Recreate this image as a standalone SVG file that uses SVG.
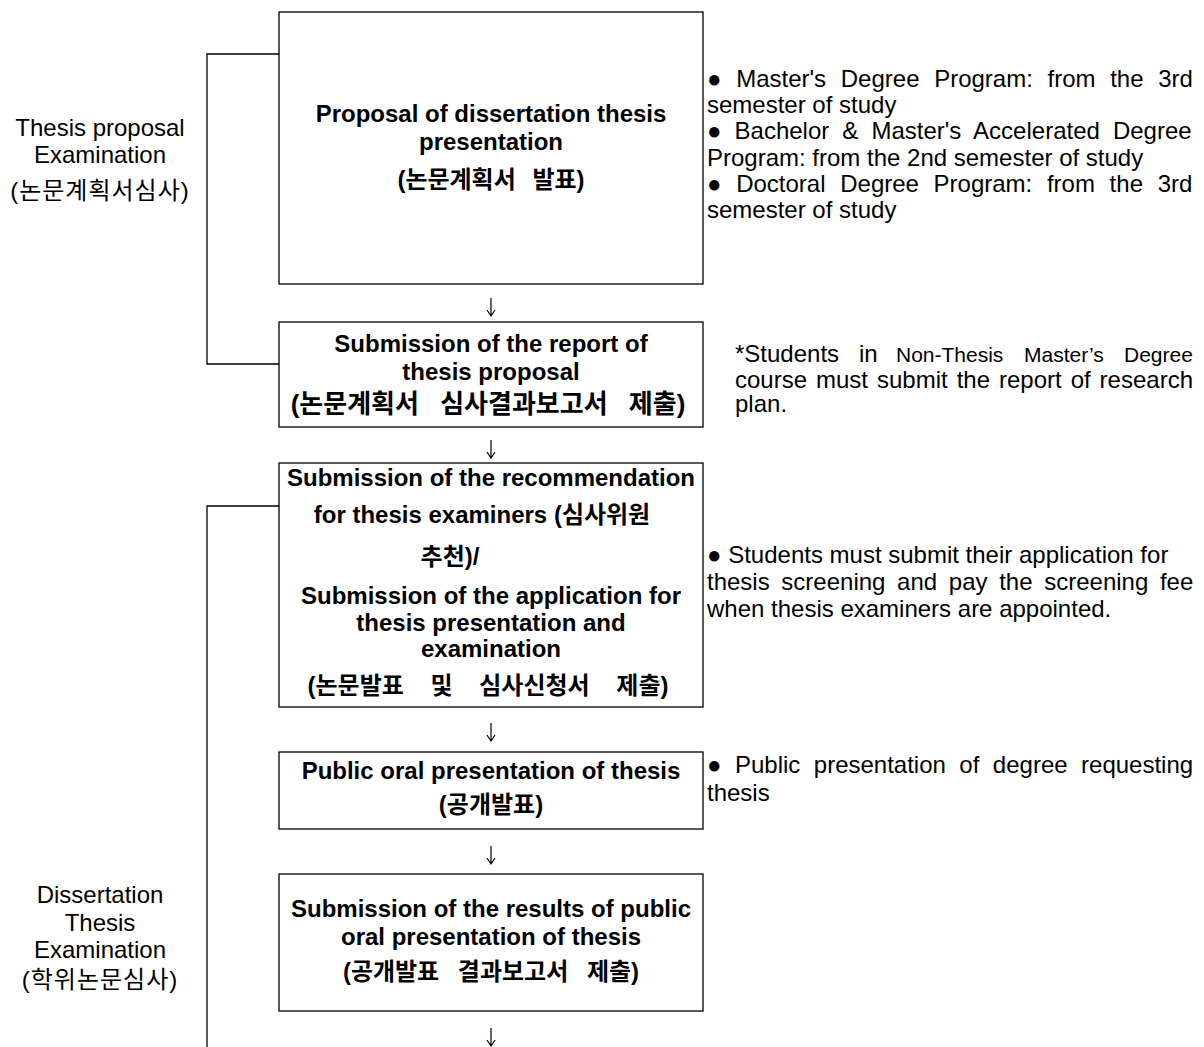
<svg xmlns="http://www.w3.org/2000/svg" width="1204" height="1047" viewBox="0 0 1204 1047">
<style>
.bx{fill:#fff;stroke:#000;stroke-width:1.3}
.ln{fill:none;stroke:#000;stroke-width:1.3}
.ar{fill:none;stroke:#000;stroke-width:1.2}
text{font-family:"Liberation Sans","Noto Sans CJK KR",Arial,sans-serif;font-size:24px;fill:#000}
.b{font-weight:bold;text-anchor:middle}
.c{text-anchor:middle}
.k{letter-spacing:1px}
.sm{font-size:21px}
</style>
<defs>
<path id="arr" class="ar" d="M0,0 V18 M-4,12 L0,18 L4,12"/>
</defs>
<rect width="1204" height="1047" fill="#fff"/>
<g id="connectors">
<path class="ln" d="M279,54 H207 V364 H279"/>
<path class="ln" d="M279,506 H207 V1047"/>
<use href="#arr" x="491" y="298"/>
<use href="#arr" x="491" y="440"/>
<use href="#arr" x="491" y="723"/>
<use href="#arr" x="491" y="846"/>
<use href="#arr" x="491" y="1028"/>
</g>
<g id="label-proposal">
<text class="c" x="100" y="136">Thesis proposal</text>
<text class="c" x="100" y="163">Examination</text>
<text class="c k" x="100" y="199">(논문계획서심사)</text>
</g>
<g id="label-dissertation">
<text class="c" x="100" y="903">Dissertation</text>
<text class="c" x="100" y="931">Thesis</text>
<text class="c" x="100" y="958">Examination</text>
<text class="c k" x="100" y="988">(학위논문심사)</text>
</g>
<g id="node1">
<rect class="bx" x="279" y="12" width="424" height="272"/>
<text class="b" x="491" y="122">Proposal of dissertation thesis</text>
<text class="b" x="491" y="150">presentation</text>
<text class="b" x="491" y="188" style="word-spacing:10px">(논문계획서 발표)</text>
</g>
<g id="note1">
<text x="707" y="87" style="word-spacing:8px">● Master's Degree Program: from the 3rd</text>
<text x="707" y="113">semester of study</text>
<text x="707" y="139" style="word-spacing:6.4px">● Bachelor &amp; Master's Accelerated Degree</text>
<text x="707" y="166">Program: from the 2nd semester of study</text>
<text x="707" y="192" style="word-spacing:8px">● Doctoral Degree Program: from the 3rd</text>
<text x="707" y="218">semester of study</text>
</g>
<g id="node2">
<rect class="bx" x="279" y="322" width="424" height="105"/>
<text class="b" x="491" y="352">Submission of the report of</text>
<text class="b" x="491" y="380">thesis proposal</text>
<text class="b" x="488" y="413" style="font-size:26px;word-spacing:14px">(논문계획서 심사결과보고서 제출)</text>
</g>
<g id="note2">
<text y="362"><tspan x="735">*Students</tspan><tspan x="859">in</tspan><tspan class="sm" x="896">Non-Thesis</tspan><tspan class="sm" x="1024">Master’s</tspan><tspan class="sm" x="1124">Degree</tspan></text>
<text x="735" y="388" style="word-spacing:2.3px">course must submit the report of research</text>
<text x="735" y="412">plan.</text>
</g>
<g id="node3">
<rect class="bx" x="279" y="463" width="424" height="244"/>
<text class="b" x="491" y="486">Submission of the recommendation</text>
<text class="b" x="482" y="523">for thesis examiners (심사위원</text>
<text class="b" x="450" y="565">추천)/</text>
<text class="b" x="491" y="604">Submission of the application for</text>
<text class="b" x="491" y="631">thesis presentation and</text>
<text class="b" x="491" y="657">examination</text>
<text class="b" x="488" y="694" style="word-spacing:20px">(논문발표 및 심사신청서 제출)</text>
</g>
<g id="note3">
<text x="707" y="563">● Students must submit their application for</text>
<text x="707" y="590" style="word-spacing:5px">thesis screening and pay the screening fee</text>
<text x="707" y="617">when thesis examiners are appointed.</text>
</g>
<g id="node4">
<rect class="bx" x="279" y="752" width="424" height="77"/>
<text class="b" x="491" y="779">Public oral presentation of thesis</text>
<text class="b" x="491" y="813">(공개발표)</text>
</g>
<g id="note4">
<text x="707" y="773" style="word-spacing:6.8px">● Public presentation of degree requesting</text>
<text x="707" y="801">thesis</text>
</g>
<g id="node5">
<rect class="bx" x="279" y="874" width="424" height="137"/>
<text class="b" x="491" y="917">Submission of the results of public</text>
<text class="b" x="491" y="945">oral presentation of thesis</text>
<text class="b" x="491" y="980" style="word-spacing:12px">(공개발표 결과보고서 제출)</text>
</g>
</svg>
